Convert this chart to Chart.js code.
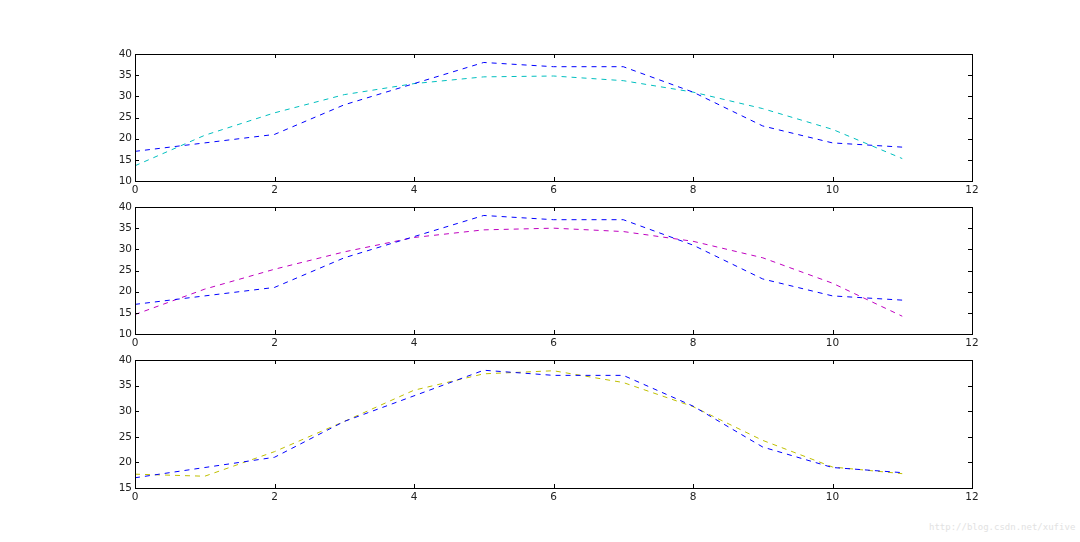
<!DOCTYPE html>
<html>
<head>
<meta charset="utf-8">
<script src="https://cdn.jsdelivr.net/npm/chart.js@4"></script>
<style>
  body { margin: 0; background: #fff; }
  #wrap { position: relative; width: 1080px; height: 542px; overflow: hidden; }
  canvas { position: absolute; left: 0; }
  .mark { position: absolute; left: 929px; top: 522px; font: 9px "DejaVu Sans Mono", monospace; color: #e2e2e2; white-space: nowrap; }
</style>
</head>
<body>
<div id="wrap">
  <canvas id="c1"></canvas>
  <canvas id="c2"></canvas>
  <canvas id="c3"></canvas>
  <div class="mark">http://blog.csdn.net/xufive</div>
</div>
<script>
const xs = [0, 1, 2, 3, 4, 5, 6, 7, 8, 9, 10, 11];
const temps = [17, 19, 21, 28, 33, 38, 37, 37, 31, 23, 19, 18];
const fit1 = [13.6, 20.8, 26.1, 30.4, 33.0, 34.6, 34.8, 33.7, 31.0, 27.1, 22.2, 15.3];
const fit2 = [14.6, 20.6, 25.3, 29.4, 32.8, 34.6, 35.0, 34.2, 31.9, 28.0, 22.0, 14.2];
const fit3 = [17.7, 17.3, 22.1, 28.0, 34.1, 37.3, 37.9, 35.6, 30.9, 24.3, 19.1, 17.8];
const xTicks = [0, 2, 4, 6, 8, 10, 12];
const yRanges = [[10, 40], [10, 40], [15, 40]];

const panels = [
  { id: 'c1', top: 54, bottom: 181, fit: fit1, color: '#00bfbf', y: yRanges[0] },
  { id: 'c2', top: 207, bottom: 334, fit: fit2, color: '#bf00bf', y: yRanges[1] },
  { id: 'c3', top: 360, bottom: 488, fit: fit3, color: '#bfbf00', y: yRanges[2] }
];

const toPoints = (arr) => xs.map((x, i) => ({ x: x, y: arr[i] }));

// classic matplotlib look: box frame with inward ticks on every side
const frameTicks = {
  id: 'frameTicks',
  afterDraw(chart) {
    const ctx = chart.ctx;
    const a = chart.chartArea;
    const sx = chart.scales.x, sy = chart.scales.y;
    ctx.save();
    ctx.strokeStyle = '#000';
    ctx.lineWidth = 1;
    ctx.strokeRect(Math.round(a.left) + 0.5, Math.round(a.top) + 0.5,
      Math.round(a.right - a.left), Math.round(a.bottom - a.top));
    ctx.beginPath();
    sx.ticks.forEach(t => {
      const px = Math.round(sx.getPixelForValue(t.value)) + 0.5;
      ctx.moveTo(px, a.bottom); ctx.lineTo(px, a.bottom - 4);
      ctx.moveTo(px, a.top); ctx.lineTo(px, a.top + 4);
    });
    sy.ticks.forEach(t => {
      const py = Math.round(sy.getPixelForValue(t.value)) + 0.5;
      ctx.moveTo(a.left, py); ctx.lineTo(a.left + 4, py);
      ctx.moveTo(a.right, py); ctx.lineTo(a.right - 4, py);
    });
    ctx.stroke();
    ctx.restore();
  }
};

panels.forEach(p => {
  const canvas = document.getElementById(p.id);
  const h = p.bottom - p.top + 10 + 22;
  canvas.style.top = (p.top - 10) + 'px';
  canvas.width = 1080;
  canvas.height = h;
  canvas.style.width = '1080px';
  canvas.style.height = h + 'px';

  new Chart(canvas.getContext('2d'), {
    type: 'line',
    data: {
      datasets: [
        { data: toPoints(temps), borderColor: '#0000ff', borderWidth: 1, borderDash: [5, 5], pointRadius: 0, tension: 0 },
        { data: toPoints(p.fit), borderColor: p.color, borderWidth: 1, borderDash: [5, 5], pointRadius: 0, tension: 0 }
      ]
    },
    options: {
      responsive: false,
      animation: false,
      layout: { padding: { left: 95, right: 108, top: 10, bottom: 0 } },
      plugins: { legend: { display: false }, tooltip: { enabled: false } },
      scales: {
        x: {
          type: 'linear', min: 0, max: 12,
          afterBuildTicks: (s) => { s.ticks = xTicks.map(v => ({ value: v })); },
          afterFit: (s) => { s.height = 22; },
          grid: { display: false, drawTicks: false, tickLength: 0 },
          border: { display: false },
          ticks: { color: '#222', padding: 3, maxRotation: 0, font: { family: 'DejaVu Sans', size: 10.5 } }
        },
        y: {
          min: p.y[0], max: p.y[1],
          ticks: { stepSize: 5, color: '#222', padding: 3, font: { family: 'DejaVu Sans', size: 10.5 } },
          afterFit: (s) => { s.width = 40; },
          grid: { display: false, drawTicks: false, tickLength: 0 },
          border: { display: false }
        }
      }
    },
    plugins: [frameTicks]
  });
});
</script>
</body>
</html>
